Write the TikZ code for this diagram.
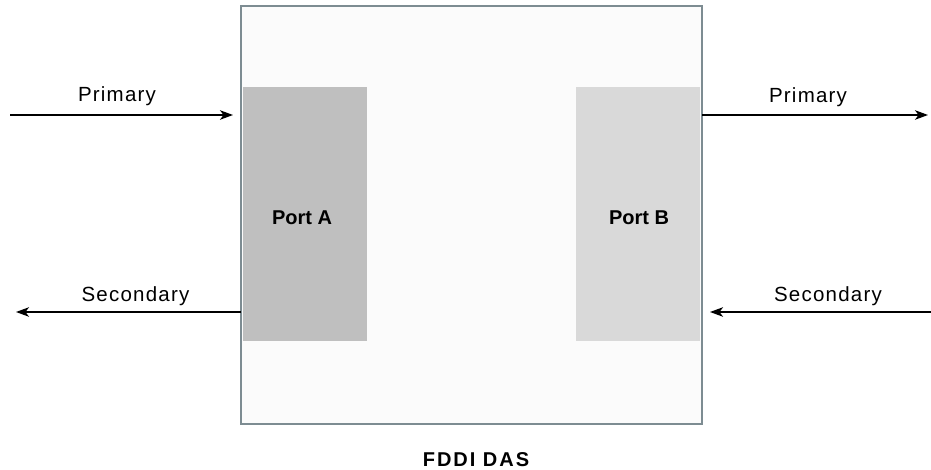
\documentclass[tikz,border=0pt]{standalone}
\usepackage{fontspec}
\setmainfont{Liberation Sans}
\newfontfamily\lblfont[LetterSpace=6]{Liberation Sans}
\newfontfamily\ttlfont[LetterSpace=10]{Liberation Sans}
\usetikzlibrary{arrows.meta}
\definecolor{boxedge}{HTML}{7D8C92}
\definecolor{boxfill}{HTML}{FBFBFB}
\definecolor{portA}{HTML}{BFBFBF}
\definecolor{portB}{HTML}{D9D9D9}
\tikzset{
  flow/.style={line width=1.3pt,-{Stealth[length=13pt,width=9.5pt,inset=3.5pt]}},
  lbl/.style={anchor=base,inner sep=0pt,font=\fontsize{20.5pt}{24pt}\lblfont},
  portlbl/.style={anchor=base,inner sep=0pt,font=\fontsize{20pt}{24pt}\bfseries},
  portbox/.style={draw=none,inner sep=0pt,minimum width=124pt,minimum height=254pt},
}
\begin{document}
\begin{tikzpicture}[x=1pt,y=-1pt]
\useasboundingbox (0,0) rectangle (931,470);
% outer DAS box
\node[draw=boxedge,line width=2.8pt,fill=boxfill,inner sep=0pt,minimum width=461pt,minimum height=418pt] (das) at (471.5,215) {};
% ports
\node[portbox,fill=portA] (pa) at (305,214) {};
\node[portbox,fill=portB] (pb) at (638,214) {};
\node[portlbl] (pat) at (302,225) {Port A};
\node[portlbl] (pbt) at (639,225) {Port B};
% title
\node[anchor=base,inner sep=0pt,font=\fontsize{20pt}{24pt}\ttlfont\bfseries] (ttl) at (476,466.5) {FDDI DAS};
% free ends
\coordinate (pin) at (10,115);
\coordinate (pinend) at (233,115);
\coordinate (pout) at (702,115);
\coordinate (poutend) at (928,115);
\coordinate (sout) at (241,312);
\coordinate (soutend) at (16,312);
\coordinate (sin) at (931,312);
\coordinate (sinend) at (710,312);
\draw[flow] (pin) -- (pinend);
\draw[flow] (pout) -- (poutend);
\draw[flow] (sout) -- (soutend);
\draw[flow] (sin) -- (sinend);
% labels
\node[lbl] (l1) at (117,102) {Primary};
\node[lbl] (l2) at (808,103) {Primary};
\node[lbl] (l3) at (135.5,301) {Secondary};
\node[lbl] (l4) at (828,301) {Secondary};
\end{tikzpicture}
\end{document}
